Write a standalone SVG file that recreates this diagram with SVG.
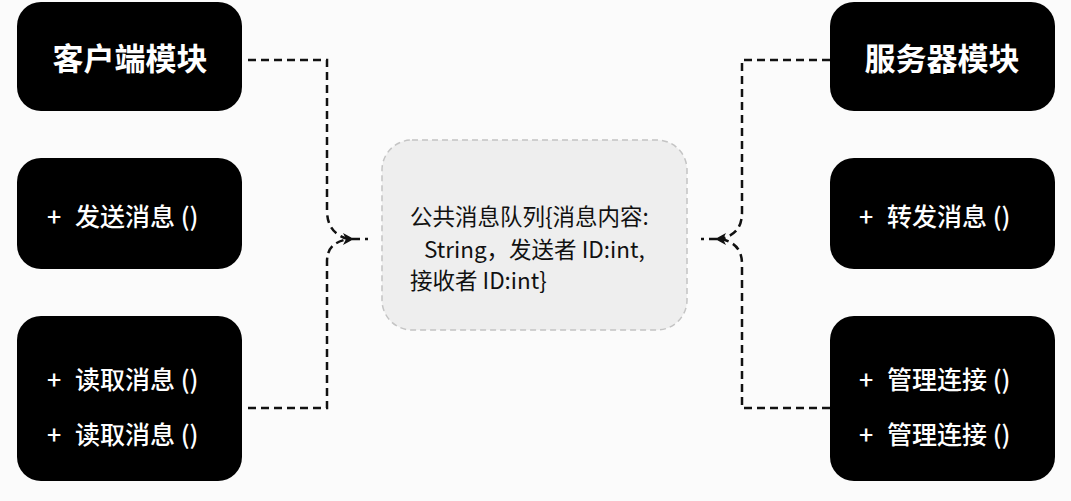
<svg xmlns="http://www.w3.org/2000/svg" width="1071" height="501" viewBox="0 0 1071 501">
<style>
.box{fill:#000;}
.title{font-family:"Noto Sans CJK SC","Noto Sans",sans-serif;font-size:31px;font-weight:700;fill:#fff;text-anchor:middle;dominant-baseline:central;}
.item{font-family:"Noto Sans CJK SC","Noto Sans",sans-serif;font-size:25px;font-weight:500;fill:#fff;dominant-baseline:central;}
.center{fill:#eeeeee;stroke:#c4c4c4;stroke-width:1.5;stroke-dasharray:6 4;}
.ctext{font-family:"Noto Sans CJK SC","Noto Sans",sans-serif;font-size:22.5px;fill:#111;dominant-baseline:central;}
.conn{fill:none;stroke:#111;stroke-width:2.5;stroke-dasharray:8 5;}
.head{fill:#111;}
</style>
<rect width="1071" height="501" fill="#fbfbfb"/>
<g id="client-title"><rect class="box" x="17" y="2" width="225" height="109" rx="24"/><text class="title" x="130" y="56">客户端模块</text></g>
<g id="client-send"><rect class="box" x="17" y="158" width="225" height="111" rx="24"/><text class="item" x="47" y="215">+</text><text class="item" x="75" y="215">发送消息 ()</text></g>
<g id="client-read"><rect class="box" x="17" y="316" width="225" height="165" rx="24"/><text class="item" x="47" y="378">+</text><text class="item" x="75" y="378">读取消息 ()</text><text class="item" x="47" y="433">+</text><text class="item" x="75" y="433">读取消息 ()</text></g>
<g id="server-title"><rect class="box" x="830" y="2" width="225" height="109" rx="24"/><text class="title" x="942" y="56">服务器模块</text></g>
<g id="server-forward"><rect class="box" x="830" y="158" width="225" height="111" rx="24"/><text class="item" x="859" y="215">+</text><text class="item" x="887" y="215">转发消息 ()</text></g>
<g id="server-manage"><rect class="box" x="830" y="316" width="225" height="165" rx="24"/><text class="item" x="859" y="378">+</text><text class="item" x="887" y="378">管理连接 ()</text><text class="item" x="859" y="433">+</text><text class="item" x="887" y="433">管理连接 ()</text></g>
<g id="queue"><rect class="center" x="382" y="140" width="305" height="190" rx="30"/>
<text class="ctext" x="410" y="215">公共消息队列{消息内容:</text>
<text class="ctext" x="424" y="248">String，发送者 ID:int,</text>
<text class="ctext" x="410" y="279">接收者 ID:int}</text></g>
<g id="connectors">
<path class="conn" d="M248 60 H327 V210 C327 226 334 235 348 239"/>
<path class="conn" d="M248 408 H327 V262 C327 248 334 242 348 239"/>
<path class="conn" d="M352 239 H368"/>
<polygon class="head" points="354,239 343,233 346,239 343,245"/>
<path class="conn" d="M830 60 H742 V212 C742 228 735 235 721 239"/>
<path class="conn" d="M830 408 H742 V264 C742 250 735 242 721 239"/>
<path class="conn" d="M717 239 H701"/>
<polygon class="head" points="715,239 726,233 723,239 726,245"/>
</g>
</svg>
